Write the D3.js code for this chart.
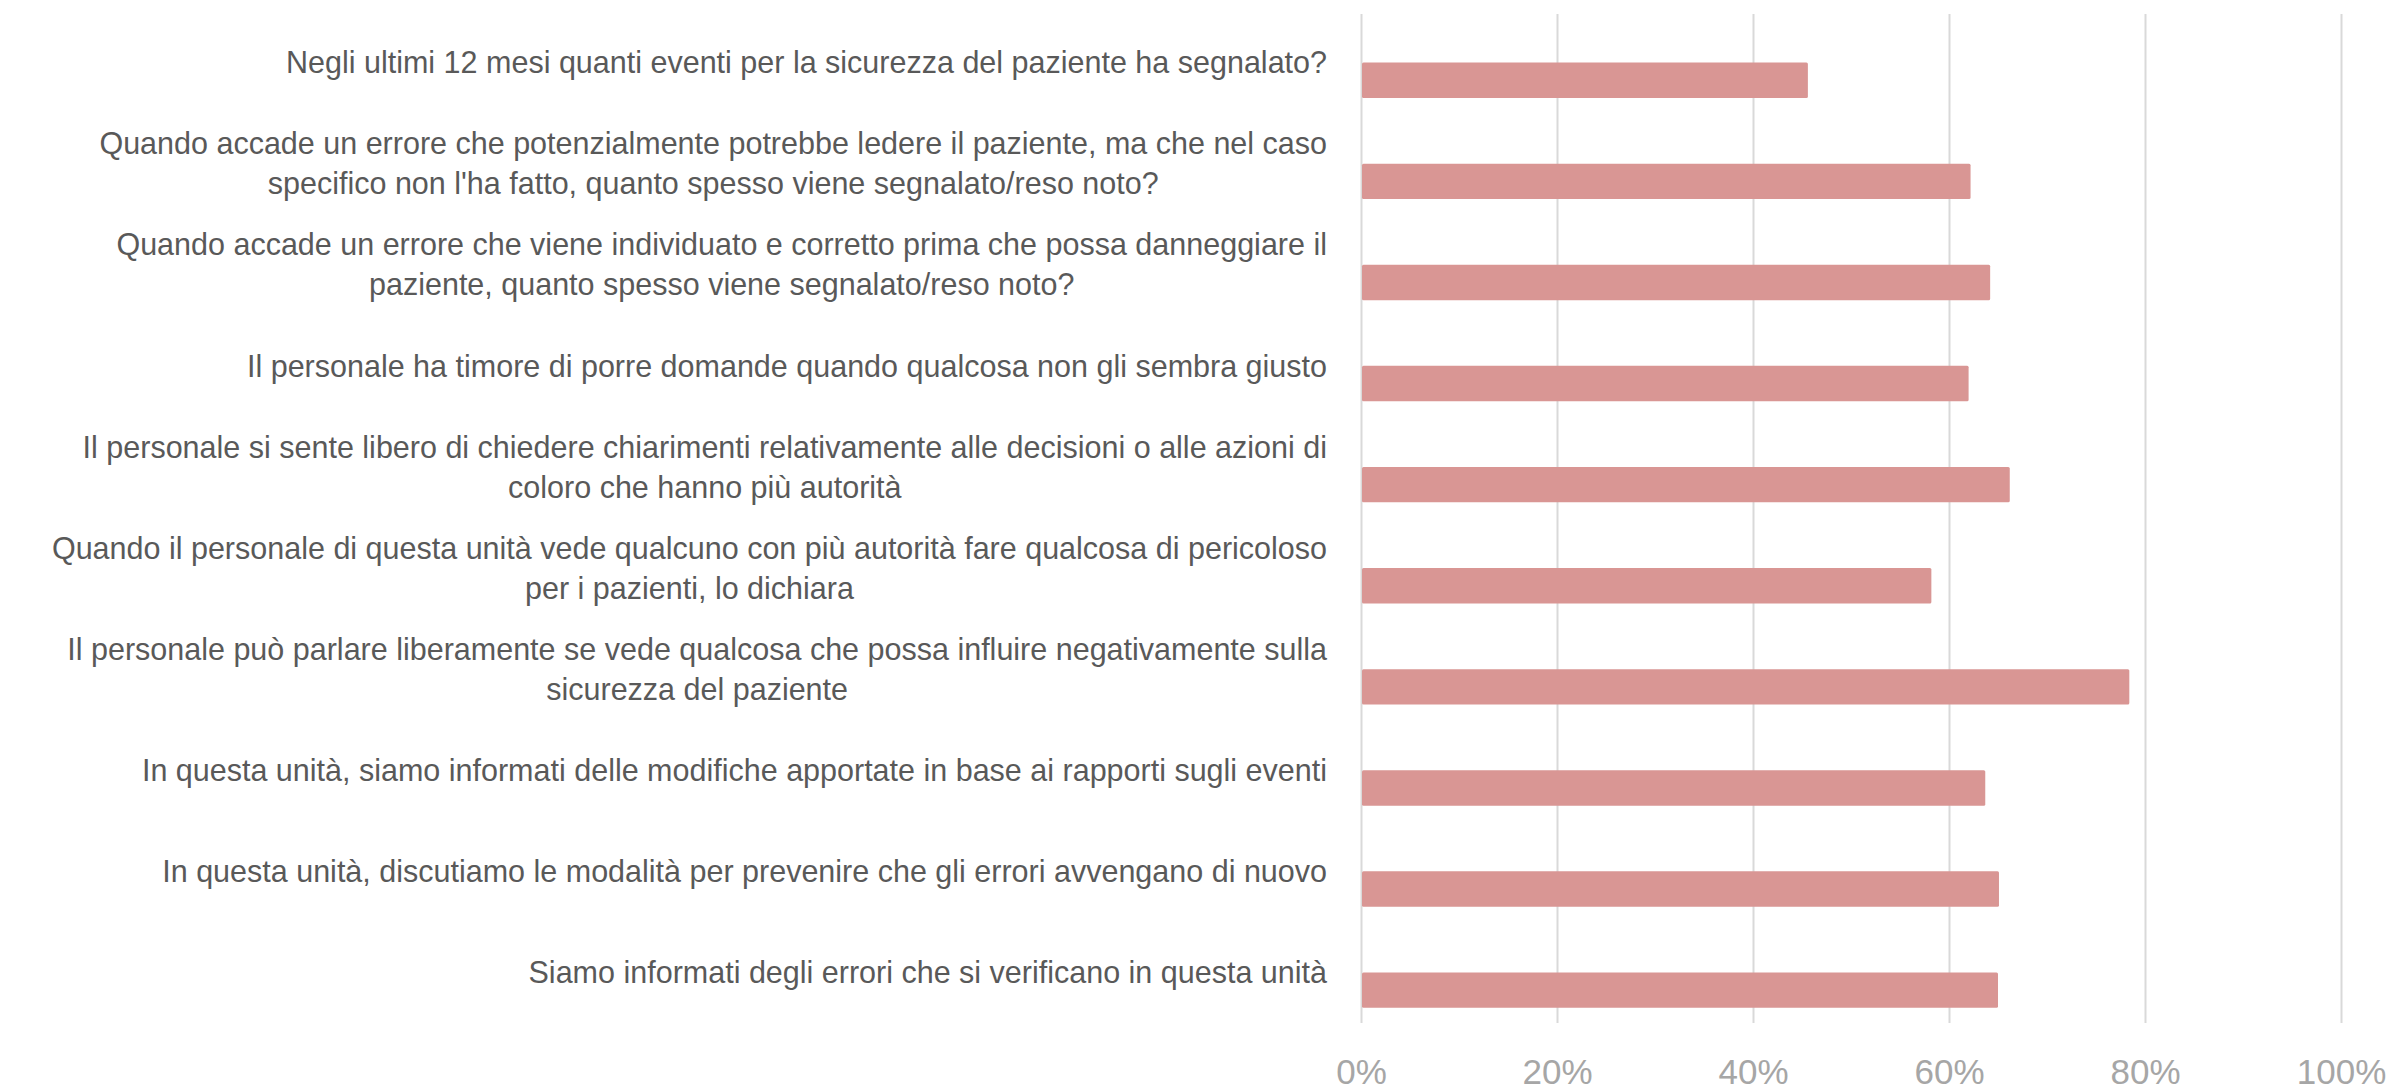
<!DOCTYPE html>
<html>
<head>
<meta charset="utf-8">
<script src="https://cdn.jsdelivr.net/npm/d3@7"></script>
<style>
  html, body { margin: 0; padding: 0; background: #fff; }
  svg { display: block; font-family: "Liberation Sans", Arial, sans-serif; }
</style>
</head>
<body>
<div id="chart"></div>
<script>
// categories top to bottom, "\n" marks where the original label wraps
const categories = [
  "Negli ultimi 12 mesi quanti eventi per la sicurezza del paziente ha segnalato?",
  "Quando accade un errore che potenzialmente potrebbe ledere il paziente, ma che nel caso\nspecifico non l'ha fatto, quanto spesso viene segnalato/reso noto?",
  "Quando accade un errore che viene individuato e corretto prima che possa danneggiare il\npaziente, quanto spesso viene segnalato/reso noto?",
  "Il personale ha timore di porre domande quando qualcosa non gli sembra giusto",
  "Il personale si sente libero di chiedere chiarimenti relativamente alle decisioni o alle azioni di\ncoloro che hanno più autorità",
  "Quando il personale di questa unità vede qualcuno con più autorità fare qualcosa di pericoloso\nper i pazienti, lo dichiara",
  "Il personale può parlare liberamente se vede qualcosa che possa influire negativamente sulla\nsicurezza del paziente",
  "In questa unità, siamo informati delle modifiche apportate in base ai rapporti sugli eventi",
  "In questa unità, discutiamo le modalità per prevenire che gli errori avvengano di nuovo",
  "Siamo informati degli errori che si verificano in questa unità"
];
const values = [0.456, 0.622, 0.642, 0.620, 0.662, 0.582, 0.784, 0.637, 0.651, 0.650];
const tickValues = [0, 0.2, 0.4, 0.6, 0.8, 1.0];

const W = 2389, H = 1092;
const margin = { top: 12, right: 48, bottom: 69, left: 1361 };
const width = W - margin.left - margin.right;
const height = H - margin.top - margin.bottom;

const svg = d3.select("#chart").append("svg")
  .attr("width", W)
  .attr("height", H);

const g = svg.append("g")
  .attr("transform", `translate(${margin.left},${margin.top})`);

const x = d3.scaleLinear().domain([0, 1]).range([0, width]);
const y = d3.scaleBand().domain(d3.range(categories.length)).range([0, height]).padding(0);

// gridlines
g.append("g")
  .attr("class", "grid")
  .attr("transform", `translate(0,${height})`)
  .call(d3.axisBottom(x).tickValues(tickValues).tickSize(-(height - 2)).tickFormat(""))
  .call(s => s.select(".domain").remove())
  .call(s => s.selectAll("line").attr("stroke", "#d9d9d9").attr("stroke-width", 2));

// tick labels
g.append("g")
  .attr("class", "x-axis")
  .attr("transform", `translate(0,${height})`)
  .call(d3.axisBottom(x).tickValues(tickValues).tickSize(0).tickPadding(36).tickFormat(d3.format(".0%")))
  .call(s => s.select(".domain").remove())
  .call(s => s.selectAll("text").attr("fill", "#a6a6a6").attr("font-size", 35).attr("font-family", "Liberation Sans, Arial, sans-serif"));

// bars: the series sits in the lower half of each category slot
const barH = y.bandwidth() * 0.35;
g.selectAll(".bar")
  .data(values)
  .enter().append("rect")
  .attr("class", "bar")
  .attr("x", x(0) + 1)
  .attr("y", (d, i) => y(i) + y.bandwidth() / 2)
  .attr("width", d => x(d) - x(0) - 1)
  .attr("height", barH)
  .attr("rx", 1.5)
  .attr("fill", "#d99694");

// category labels, block right aligned, wrapped lines centred
const labelRight = -34;
const lineH = 40;
const labels = g.selectAll(".label")
  .data(categories)
  .enter().append("text")
  .attr("class", "label")
  .attr("fill", "#595959")
  .attr("font-size", 30.5)
  .attr("text-anchor", "middle");

labels.each(function(d, i) {
  const lines = d.split("\n");
  const t = d3.select(this);
  const cy = y(i) + y.bandwidth() / 2;
  const y0 = cy - (lines.length - 1) * lineH / 2;
  lines.forEach((ln, k) => {
    t.append("tspan")
      .attr("y", y0 + k * lineH)
      .attr("dy", "0.35em")
      .text(ln);
  });
  let maxW = 0;
  t.selectAll("tspan").each(function() {
    maxW = Math.max(maxW, this.getComputedTextLength());
  });
  t.selectAll("tspan").attr("x", labelRight - maxW / 2);
});
</script>
</body>
</html>
